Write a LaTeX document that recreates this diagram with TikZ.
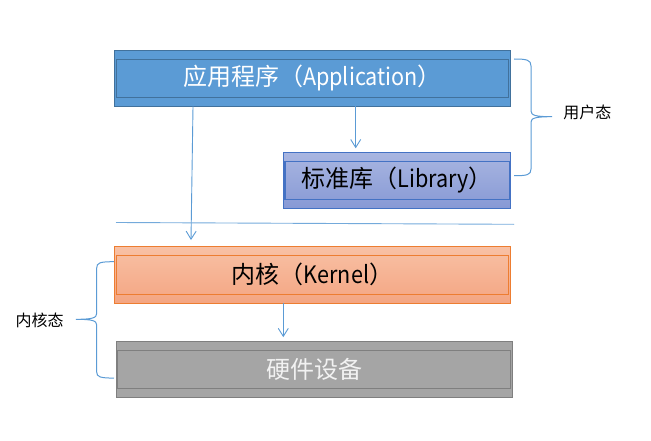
\documentclass[tikz,border=0pt]{standalone}
\usepackage{fontspec}
\setmainfont{Noto Sans CJK SC}
\usetikzlibrary{arrows.meta,calc}
\definecolor{appfill}{HTML}{5B9BD5}
\definecolor{appline}{HTML}{41719C}
\definecolor{libtop}{HTML}{A9B6E1}
\definecolor{libbot}{HTML}{8799D5}
\definecolor{libline}{HTML}{4472C4}
\definecolor{kertop}{HTML}{F8C1A5}
\definecolor{kerbot}{HTML}{F4A582}
\definecolor{kerline}{HTML}{ED7D31}
\definecolor{hwfill}{HTML}{A5A5A5}
\definecolor{hwline}{HTML}{7F7F7F}
\definecolor{conncol}{HTML}{5B9BD5}
\newcommand{\latn}[1]{\scalebox{0.9}[1]{#1}}
\newcommand{\lowr}[1]{\raisebox{-1.8pt}{#1}}
\begin{document}
\begin{tikzpicture}[x=1pt,y=-1pt,
  layerbox/.style={rectangle,inner sep=0pt,outer sep=0pt,line width=1.2pt,
    minimum height=56pt,font=\fontsize{24pt}{28pt}\selectfont},
  conn/.style={draw=conncol,line width=0.9pt},
  arr/.style={conn,-{Straight Barb[length=8pt,width=10pt]}},
  bracepath/.style={draw=conncol,line width=1pt},
  sidelabel/.style={inner sep=0pt,font=\fontsize{16pt}{18pt}\selectfont}]
\useasboundingbox (0,0) rectangle (651,441);
% boxes
\node[layerbox,fill=appfill,draw=appline,minimum width=396.4pt,text=white] (app) at (312.5,78.3) {\lowr{应用程序（\latn{Application}）}};
\draw[appline,line width=1.2pt] ($(app.north west)+(2,9)$) rectangle ($(app.south east)+(-2,-9)$);
\node[layerbox,top color=libtop,bottom color=libbot,draw=libline,minimum width=227.4pt,text=black] (lib) at (397,180.3) {\lowr{标准库（\latn{Library}）}};
\draw[libline,line width=1.2pt] ($(lib.north west)+(1.7,9.4)$) rectangle ($(lib.south east)+(-1.4,-9)$);
\node[layerbox,top color=kertop,bottom color=kerbot,draw=kerline,minimum width=396.4pt,minimum height=57pt,text=black] (ker) at (312.5,274.8) {\lowr{内核（\latn{Kernel}）}};
\draw[kerline,line width=1.2pt] ($(ker.north west)+(2.4,9.2)$) rectangle ($(ker.south east)+(-2,-8.8)$);
\node[layerbox,fill=hwfill,draw=hwline,minimum width=396.4pt,text=white!95!black] (hw) at (314.5,369.4) {硬件设备};
\draw[hwline,line width=1.2pt] ($(hw.north west)+(1.4,8.8)$) rectangle ($(hw.south east)+(-2,-9)$);
% connectors
\coordinate (a1) at ($(app.south west)+(78.7,0)$);
\coordinate (a1e) at ($(ker.north west)+(76.7,-6.3)$);
\draw[arr] (a1) -- (a1e);
\coordinate (a2) at ($(lib.north west)+(72.4,0)$);
\draw[arr] (a2 |- app.south) -- ($(a2)+(0,-4)$);
\coordinate (a3) at ($(ker.south west)+(169,0)$);
\draw[arr] (a3) -- ($(a3 |- hw.north)+(0,-4.2)$);
% separator
\coordinate (h1) at (116,222.5);
\coordinate (h2) at (514,224.3);
\draw[conn,draw=conncol!85!white] (h1) -- (h2);
% right brace
\coordinate (rb1) at ($(app.north east)+(3.3,8.7)$);
\coordinate (rb2) at ($(lib.south east)+(3.3,-32.6)$);
\coordinate (rbt) at (552,116.7);
\draw[bracepath] (rb1) .. controls (527,59) and (531,60) .. (531,66) -- (531,111)
  .. controls (531,115.5) and (536,116.7) .. (rbt)
  .. controls (536,116.7) and (531,118) .. (531,122) -- (531,169)
  .. controls (531,175) and (527,175.7) .. (rb2);
\node[sidelabel] (lu) at (587.3,112) {用户态};
% left brace
\coordinate (lb1) at ($(ker.north west)+(-0.3,15.4)$);
\coordinate (lb2) at ($(hw.south west)+(-2.3,-19.3)$);
\coordinate (lbt) at (76,319.3);
\draw[bracepath] (lb1) .. controls (100,261.7) and (96.7,262.7) .. (96.7,268) -- (96.7,313.5)
  .. controls (96.7,318) and (92,319.3) .. (lbt)
  .. controls (92,319.3) and (96.7,320.6) .. (96.7,325) -- (96.7,372)
  .. controls (96.7,377) and (100,378) .. (lb2);
\node[sidelabel] (lk) at (39.7,320.5) {内核态};
\end{tikzpicture}
\end{document}
